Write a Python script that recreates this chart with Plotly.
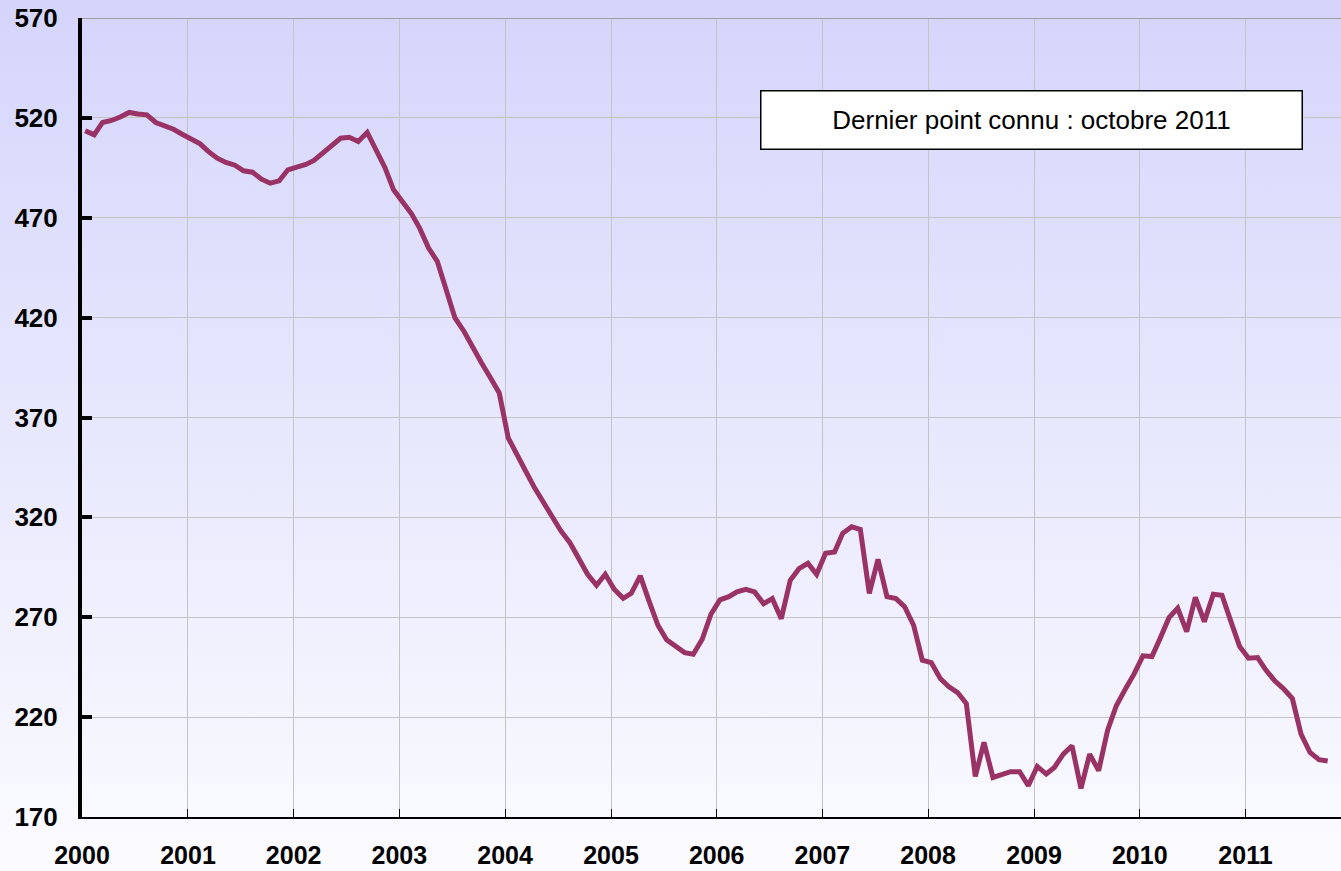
import base64
import pandas as pd
import plotly.graph_objects as go

# ---- data (monthly, Jan 2000 .. Oct 2011) ----
values_2000 = [513.6, 511.5, 517.7, 518.7, 520.4, 522.7, 521.9, 521.5, 517.7, 516.0, 514.3, 511.8]
values_2001 = [509.3, 507.0, 503.2, 499.8, 497.7, 496.3, 493.5, 492.8, 489.3, 487.3, 488.5, 494.0]
values_2002 = [495.3, 496.7, 498.7, 502.3, 506.0, 509.8, 510.3, 508.2, 512.7, 504.0, 495.2, 484.0]
values_2003 = [478.2, 472.0, 464.8, 454.8, 448.2, 434.0, 419.8, 413.2, 404.8, 397.3, 389.8, 382.3]
values_2004 = [359.8, 350.7, 343.2, 334.8, 327.3, 320.7, 313.2, 307.3, 299.8, 291.5, 286.0, 291.5]
values_2005 = [284.0, 279.5, 282.0, 290.7, 278.2, 266.0, 258.7, 255.3, 252.3, 251.5, 259.0, 271.5]
values_2006 = [278.7, 280.3, 282.7, 284.0, 282.7, 276.8, 279.3, 269.3, 288.5, 294.3, 297.0, 291.5]
values_2007 = [302.0, 302.7, 312.0, 315.3, 314.0, 282.0, 299.0, 280.3, 279.3, 275.3, 266.0, 248.5]
values_2008 = [247.3, 239.3, 235.3, 232.3, 226.8, 190.3, 207.3, 189.8, 191.0, 192.7, 192.7, 185.7]
values_2009 = [195.3, 191.5, 194.8, 201.5, 205.7, 184.3, 201.5, 193.2, 213.5, 225.7, 234.0, 241.5]
values_2010 = [250.7, 250.3, 259.3, 269.8, 274.5, 262.8, 280.0, 267.8, 281.5, 281.0, 267.8, 255.3]
values_2011 = [249.5, 249.8, 243.7, 238.2, 234.3, 229.3, 211.5, 202.3, 198.7, 198.0]

year_labels = ["2000", "2001", "2002", "2003", "2004", "2005",
               "2006", "2007", "2008", "2009", "2010", "2011"]
y_ticks = [170, 220, 270, 320, 370, 420, 470, 520, 570]
note_text = "Dernier point connu : octobre 2011"

values = (values_2000 + values_2001 + values_2002 + values_2003 + values_2004 +
          values_2005 + values_2006 + values_2007 + values_2008 + values_2009 +
          values_2010 + values_2011)
dates = pd.date_range("2000-01-01", periods=len(values), freq="MS") + pd.Timedelta(days=11)
year_ticks = [f"{y}-01-01" for y in year_labels]

# ---- background gradient (whole figure) ----
svg = ('<svg xmlns="http://www.w3.org/2000/svg" width="10" height="100" preserveAspectRatio="none">'
       '<defs><linearGradient id="g" x1="0" y1="0" x2="0" y2="1">'
       '<stop offset="0" stop-color="#D5D5FC"/><stop offset="1" stop-color="#FBFBFF"/>'
       '</linearGradient></defs><rect width="10" height="100" fill="url(#g)"/></svg>')
svg_uri = "data:image/svg+xml;base64," + base64.b64encode(svg.encode()).decode()

W, H = 1341, 871
ML, MR, MT, MB = 82, 0, 18, 54
pw, ph = W - ML - MR, H - MT - MB

fig = go.Figure()
fig.add_trace(go.Scatter(
    x=dates, y=values, mode="lines",
    line=dict(color="#993366", width=5),
    hoverinfo="x+y", showlegend=False,
))

tick_font = dict(family="Liberation Sans, Arial, sans-serif", size=26, color="black", weight="bold")
xtick_font = dict(family="Liberation Sans, Arial, sans-serif", size=25, color="black", weight="bold")

fig.update_layout(
    width=W, height=H,
    margin=dict(l=ML, r=MR, t=MT, b=MB, pad=0, autoexpand=False),
    paper_bgcolor="#F4F4FE",
    plot_bgcolor="rgba(0,0,0,0)",
    showlegend=False,
    images=[dict(
        source=svg_uri, xref="paper", yref="paper",
        x=-ML / pw, y=1 + MT / ph, sizex=W / pw, sizey=H / ph,
        xanchor="left", yanchor="top", sizing="stretch", layer="below",
    )],
    xaxis=dict(
        type="date", range=["2000-01-01", "2011-11-27"],
        tickmode="array", tickvals=year_ticks, ticktext=year_labels,
        showgrid=True, gridcolor="#C4C4C4", gridwidth=1,
        showline=True, linecolor="black", linewidth=1.5,
        ticks="inside", ticklen=8, tickwidth=1, tickcolor="black",
        tickfont=xtick_font, ticklabelstandoff=15, zeroline=False,
        automargin=False,
    ),
    yaxis=dict(
        range=[170, 570], tickmode="array", tickvals=y_ticks,
        showgrid=True, gridcolor="#C4C4C4", gridwidth=1,
        showline=True, linecolor="black", linewidth=4,
        ticks="inside", ticklen=10, tickwidth=4, tickcolor="black",
        tickfont=tick_font, ticklabelstandoff=15, zeroline=False,
        automargin=False,
    ),
    shapes=[dict(type="line", xref="paper", yref="y", x0=0, x1=1, y0=570, y1=570,
                 line=dict(color="#8C8C8C", width=1.5), layer="above")],
    annotations=[dict(
        text=note_text, xref="paper", yref="paper",
        x=(1031.5 - ML) / pw, y=(H - MB - 120.5) / ph,
        xanchor="center", yanchor="middle", showarrow=False,
        bgcolor="white", bordercolor="black", borderwidth=1.5,
        width=538, height=55,
        font=dict(family="Liberation Sans Narrow, Arial Narrow, Liberation Sans, sans-serif",
                  size=26, color="black"),
    )],
)

fig.write_html(
    "out.html",
    config={"displayModeBar": False},
    post_script="document.body.style.margin='0';document.body.style.overflow='hidden';",
)
